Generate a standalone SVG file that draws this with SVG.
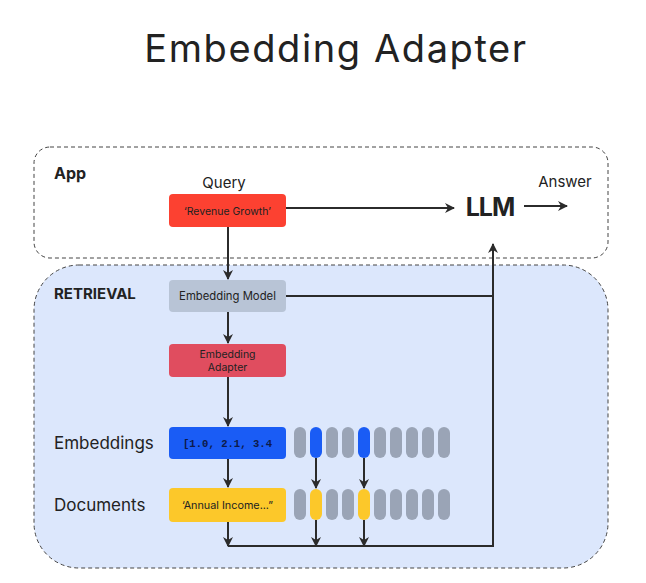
<svg xmlns="http://www.w3.org/2000/svg" width="646" height="583" viewBox="0 0 646 583">
<defs>
<style>
.t{font-family:Inter,"Open Sans","Liberation Sans",sans-serif;fill:#222}
.b{font-weight:700}
.box{stroke:none}
.line{fill:none;stroke:#2b2b2b;stroke-width:2}
.zone{stroke:#444;stroke-width:1;stroke-dasharray:4 3}
.pill{fill:#9aa4b6}
</style>
<marker id="ah" viewBox="0 0 10 10" refX="9" refY="5" markerWidth="10" markerHeight="10" markerUnits="userSpaceOnUse" orient="auto">
<path d="M0,0 L10,5 L0,10 L3,5 z" fill="#2b2b2b"/>
</marker>
</defs>
<rect width="646" height="583" fill="#ffffff"/>
<text class="t" x="336" y="62" font-size="38" letter-spacing="1.6" text-anchor="middle" fill="#111">Embedding Adapter</text>

<g id="app">
<rect class="zone" x="34" y="147" width="574" height="111" rx="16" fill="#ffffff"/>
<text class="t b" x="54" y="179" font-size="16">App</text>
</g>
<g id="retrieval">
<rect class="zone" x="34" y="265" width="574" height="303" rx="45" fill="#dce7fc"/>
<text class="t b" x="54" y="299" font-size="15">RETRIEVAL</text>
</g>

<g id="query">
<text class="t" x="224" y="188" font-size="15" text-anchor="middle">Query</text>
<rect class="box" x="169" y="194" width="117" height="33" rx="4" fill="#fc4131"/>
<text class="t" x="227.5" y="214.5" font-size="10.5" text-anchor="middle" fill="#3a1410">‘Revenue Growth’</text>
</g>
<g id="llm">
<text class="t b" x="490" y="216" font-size="25" text-anchor="middle" letter-spacing="-1">LLM</text>
</g>
<g id="answer">
<text class="t" x="565" y="187" font-size="15" text-anchor="middle">Answer</text>
</g>
<g id="embedding-model">
<rect class="box" x="169" y="280" width="117" height="32" rx="4" fill="#b8c4d6"/>
<text class="t" x="227.5" y="300" font-size="11.3" text-anchor="middle" fill="#333">Embedding Model</text>
</g>
<g id="embedding-adapter">
<rect class="box" x="169" y="344" width="117" height="33" rx="4" fill="#e04d5f"/>
<text class="t" x="227.5" y="358" font-size="10.5" text-anchor="middle" fill="#3a1414">Embedding</text>
<text class="t" x="227.5" y="371" font-size="10.5" text-anchor="middle" fill="#3a1414">Adapter</text>
</g>
<g id="embeddings">
<text class="t" x="54" y="449" font-size="17">Embeddings</text>
<rect class="box" x="169" y="427" width="117" height="32" rx="4" fill="#1a5cf5"/>
<text x="183" y="447" font-size="10.6" font-family="'Liberation Mono','DejaVu Sans Mono',monospace" font-weight="700" fill="#0d1a4a">[1.0, 2.1, 3.4</text>
<rect class="pill" x="294" y="427" width="12" height="31" rx="6"/>
<rect x="310" y="427" width="12" height="31" rx="6" fill="#1a5cf5"/>
<rect class="pill" x="326" y="427" width="12" height="31" rx="6"/>
<rect class="pill" x="342" y="427" width="12" height="31" rx="6"/>
<rect x="358" y="427" width="12" height="31" rx="6" fill="#1a5cf5"/>
<rect class="pill" x="374" y="427" width="12" height="31" rx="6"/>
<rect class="pill" x="390" y="427" width="12" height="31" rx="6"/>
<rect class="pill" x="406" y="427" width="12" height="31" rx="6"/>
<rect class="pill" x="422" y="427" width="12" height="31" rx="6"/>
<rect class="pill" x="438" y="427" width="12" height="31" rx="6"/>
</g>
<g id="documents">
<text class="t" x="54" y="511" font-size="17">Documents</text>
<rect class="box" x="169" y="488" width="117" height="34" rx="4" fill="#fcc82a"/>
<text class="t" x="227.5" y="509" font-size="10.8" text-anchor="middle" fill="#2a2410">‘Annual Income...”</text>
<rect class="pill" x="294" y="489" width="12" height="31" rx="6"/>
<rect x="310" y="489" width="12" height="31" rx="6" fill="#fcc82a"/>
<rect class="pill" x="326" y="489" width="12" height="31" rx="6"/>
<rect class="pill" x="342" y="489" width="12" height="31" rx="6"/>
<rect x="358" y="489" width="12" height="31" rx="6" fill="#fcc82a"/>
<rect class="pill" x="374" y="489" width="12" height="31" rx="6"/>
<rect class="pill" x="390" y="489" width="12" height="31" rx="6"/>
<rect class="pill" x="406" y="489" width="12" height="31" rx="6"/>
<rect class="pill" x="422" y="489" width="12" height="31" rx="6"/>
<rect class="pill" x="438" y="489" width="12" height="31" rx="6"/>
</g>

<g id="connectors">
<path class="line" d="M286,208 H454" marker-end="url(#ah)"/>
<path class="line" d="M524,206 H567" marker-end="url(#ah)"/>
<path class="line" d="M228,227 V279" marker-end="url(#ah)"/>
<path class="line" d="M228,312 V343" marker-end="url(#ah)"/>
<path class="line" d="M228,377 V426" marker-end="url(#ah)"/>
<path class="line" d="M228,459 V487" marker-end="url(#ah)"/>
<path class="line" d="M228,522 V546" marker-end="url(#ah)"/>
<path class="line" d="M316,458 V488" marker-end="url(#ah)"/>
<path class="line" d="M364,458 V488" marker-end="url(#ah)"/>
<path class="line" d="M316,520 V546" marker-end="url(#ah)"/>
<path class="line" d="M364,520 V546" marker-end="url(#ah)"/>
<path class="line" d="M286,296 H493"/>
<path class="line" d="M228,546 H493 V244" marker-end="url(#ah)"/>
</g>
</svg>
